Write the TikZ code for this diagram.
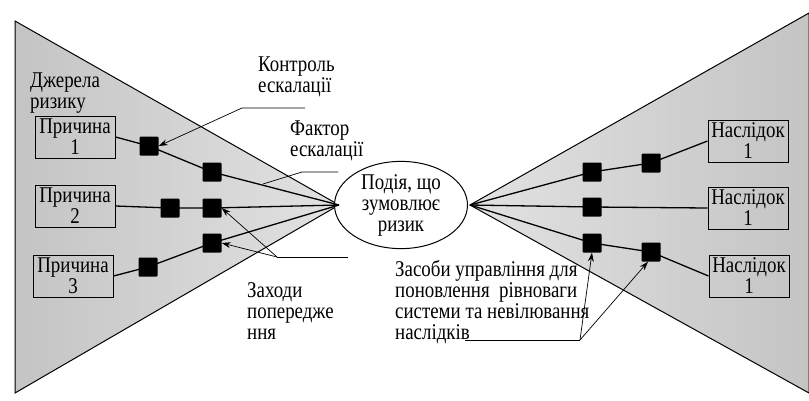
\documentclass[tikz,border=0pt]{standalone}
\usepackage{fontspec}
\setmainfont{Liberation Serif}[FakeStretch=0.84]
\usetikzlibrary{arrows.meta,positioning,shapes.geometric}
\definecolor{wingdark}{RGB}{196,196,196}
\definecolor{winglight}{RGB}{226,226,226}
\tikzset{
  cause/.style={draw,line width=1pt,minimum width=80pt,minimum height=42pt,
    inner sep=1pt,align=center},
  barrier/.style={fill=black,minimum size=19pt,inner sep=0pt,rounded corners=1pt},
  flow/.style={line width=1.3pt},
  lead/.style={line width=0.7pt},
  pointer/.style={lead,-{Stealth[length=9pt,width=6pt]}},
  note/.style={align=left,anchor=north west,inner sep=0pt}
}

\begin{document}
\begin{tikzpicture}[x=1pt,y=-1pt,font=\fontsize{22.5}{21}\selectfont]
\useasboundingbox (0,0) rectangle (809,400);

% the two wings
\coordinate (lapex) at (339,205);
\coordinate (rapex) at (470,205);
\shadedraw[left color=wingdark,right color=winglight,line width=1pt]
  (15,21) -- (lapex) -- (15,393) -- cycle;
\shadedraw[left color=winglight,right color=wingdark,line width=1pt]
  (rapex) -- (809,13) -- (809,393) -- cycle;

% central event
\node[draw,ellipse,line width=1pt,fill=white,minimum width=133pt,
  minimum height=84pt,inner sep=0pt,align=center] (event) at (401,205)
  {Подія, що\\зумовлює\\ризик};

% causes
\node[note] (sources) at (30,73) {Джерела\\ризику};
\node[cause] (cause1) at (75,137) {Причина\\1};
\node[cause] (cause2) at (75,206) {Причина\\2};
\node[cause] (cause3) at (73,276) {Причина\\3};

% consequences
\node[cause] (cons1) at (748,141) {Наслідок\\1};
\node[cause] (cons2) at (748,208) {Наслідок\\1};
\node[cause] (cons3) at (749,276) {Наслідок\\1};

% barriers
\node[barrier] (b11) at (149,146) {};
\node[barrier] (b12) at (212,172) {};
\node[barrier] (b21) at (170,208) {};
\node[barrier] (b22) at (212,208) {};
\node[barrier] (b31) at (148,267) {};
\node[barrier] (b32) at (212,243) {};
\node[barrier] (r11) at (592,172) {};
\node[barrier] (r12) at (651,163) {};
\node[barrier] (r21) at (592,207) {};
\node[barrier] (r31) at (592,243) {};
\node[barrier] (r32) at (651,252) {};

% threat lines
\draw[flow] (cause1.east) -- (b11.center) -- (b12.center) -- (lapex);
\draw[flow] (cause2.east) -- (b21.center) -- (b22.center) -- (lapex);
\draw[flow] (cause3.east) -- (b31.center) -- (b32.center) -- (lapex);
\draw[flow] (rapex) -- (r11.center) -- (r12.center) -- (cons1.west);
\draw[flow] (rapex) -- (r21.center) -- (cons2.west);
\draw[flow] (rapex) -- (r31.center) -- (r32.center) -- (cons3.west);

% labels and leaders
\node[note] (ctrl) at (258,57) {Контроль\\ескалації};
\coordinate (ctrlend) at (305,108);
\coordinate (ctrlbend) at (242,108);
\draw[pointer] (ctrlend) -- (ctrlbend) -- (b11.east);

\node[note] (factor) at (290,121) {Фактор\\ескалації};
\coordinate (factend) at (338,172);
\coordinate (factbend) at (302,172);
\coordinate (facttip) at (263,184);
\draw[lead] (factend) -- (factbend) -- (facttip);

\node[note] (prevent) at (247,282) {Заходи\\попередже\\ння};
\coordinate (prevend) at (348,257);
\coordinate (prevbend) at (277,257);
\draw[lead] (prevend) -- (prevbend);
\draw[pointer] (prevbend) -- (b22.east);
\draw[pointer] (prevbend) -- (b32.east);

\node[note] (recover) at (395,260)
  {Засоби управління для\\поновлення\ \ рівноваги\\системи та невілювання\\наслідків};
\coordinate (recend) at (465,340);
\coordinate (recbend) at (580,340);
\draw[lead] (recend) -- (recbend);
\draw[pointer] (recbend) -- (r31.south);
\draw[pointer] (recbend) -- ([xshift=-3pt]r32.south);
\end{tikzpicture}
\end{document}
